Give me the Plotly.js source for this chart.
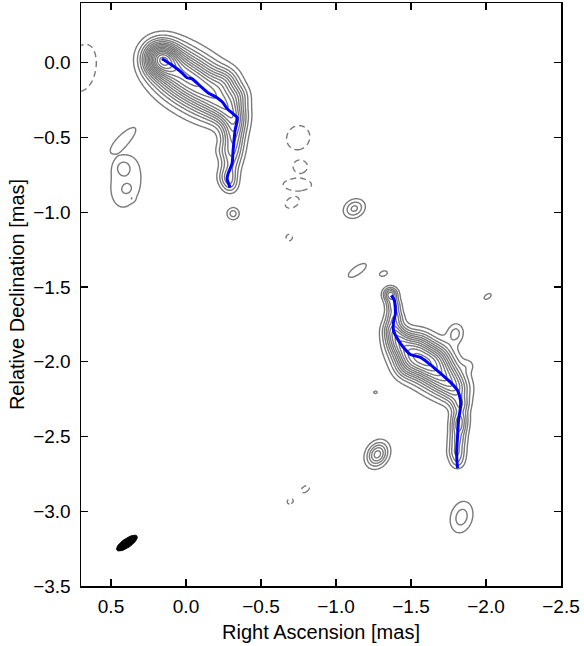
<!DOCTYPE html>
<html><head><meta charset="utf-8">
<script src="https://cdn.plot.ly/plotly-3.0.1.min.js"></script>
<style>html,body{margin:0;padding:0;background:#fff}</style>
</head><body><div id="chart" style="width:584px;height:646px"></div>
<script>
// ---- Positive emission components (RA mas, Dec mas, peak in units of lowest contour, sigma major/minor mas, major-axis angle deg) ----
const compX   = [0.174, 0.127, 0.080, 0.027, -0.033, -0.094, -0.147, -0.200, -0.247, -0.287, -0.327, -0.321, -0.314, -0.314, -0.307, -0.294, -0.281, -0.294, -0.267, -0.347, -0.240,
                 -1.363, -1.383, -1.389, -1.376, -1.403, -1.450, -1.516, -1.576, -1.630, -1.697, -1.764, -1.810, -1.830, -1.824, -1.817, -1.810, -1.804, -1.810, -1.463, -1.884, -1.697, -1.563,
                 0.414, 0.401, 0.421, 0.394, 0.361, -0.314, -1.122, -1.142, -1.316, -2.011, -1.797, -1.263, -1.276, -1.837];
const compY   = [0.033, -0.007, -0.047, -0.087, -0.120, -0.154, -0.200, -0.234, -0.281, -0.321, -0.361, -0.428, -0.494, -0.561, -0.628, -0.695, -0.768, -0.828, -0.120, -0.220, -0.588,
                 -1.550, -1.623, -1.697, -1.777, -1.844, -1.904, -1.957, -1.977, -2.024, -2.091, -2.144, -2.204, -2.291, -2.378, -2.445, -2.525, -2.605, -2.672, -2.044, -2.024, -1.957, -1.858,
                 -0.508, -0.802, -0.700, -0.845, -0.908, -1.009, -0.975, -1.389, -1.410, -1.563, -1.810, -2.204, -2.619, -3.039];
const compPeak= [9.5, 3.2, 3.2, 3.2, 3.2, 3.2, 3.2, 3.1, 2.9, 2.8, 2.8, 3.2, 3.2, 3.0, 2.7, 2.3, 3.8, 1.8, 2.5, 2.0, 1.0,
                 5.5, 3.8, 3.8, 3.8, 3.9, 4.2, 4.4, 4.4, 4.4, 4.4, 3.6, 3.0, 3.5, 4.0, 4.0, 3.5, 3.5, 2.0, 1.8, 1.0, 1.5, 1.2,
                 1.5, 1.6, 1.35, 0.9, 0.85, 2.5, 3.3, 1.5, 1.3, 1.3, 2.4, 1.2, 5.5, 2.5];
const compMaj = [0.075, 0.100, 0.108, 0.110, 0.110, 0.110, 0.108, 0.100, 0.080, 0.068, 0.058, 0.055, 0.052, 0.050, 0.048, 0.045, 0.044, 0.037, 0.060, 0.050, 0.040,
                 0.033, 0.033, 0.038, 0.045, 0.055, 0.070, 0.085, 0.090, 0.090, 0.085, 0.075, 0.060, 0.040, 0.040, 0.040, 0.040, 0.040, 0.035, 0.055, 0.030, 0.060, 0.050,
                 0.097, 0.170, 0.040, 0.032, 0.012, 0.030, 0.050, 0.078, 0.037, 0.037, 0.048, 0.020, 0.058, 0.079];
const compMin = [0.075, 0.100, 0.108, 0.110, 0.110, 0.110, 0.108, 0.100, 0.080, 0.068, 0.058, 0.055, 0.052, 0.050, 0.048, 0.045, 0.044, 0.037, 0.060, 0.050, 0.040,
                 0.033, 0.033, 0.038, 0.045, 0.055, 0.070, 0.085, 0.090, 0.090, 0.085, 0.075, 0.060, 0.040, 0.040, 0.040, 0.040, 0.040, 0.035, 0.055, 0.030, 0.060, 0.050,
                 0.030, 0.100, 0.040, 0.028, 0.012, 0.030, 0.040, 0.030, 0.023, 0.020, 0.038, 0.014, 0.045, 0.054];
const compAng = [0, 0, 0, 0, 0, 0, 0, 0, 0, 0, 0, 0, 0, 0, 0, 0, 0, 0, 0, 0, 0,
                 0, 0, 0, 0, 0, 0, 0, 0, 0, 0, 0, 0, 0, 0, 0, 0, 0, 0, 0, 0, 0, 0,
                 136, 100, 0, 150, 0, 0, 150, 145, 160, 145, 100, 170, 120, 105];

// ---- Negative emission components (dashed contours) ----
const negX    = [0.688, -0.748, -0.762, -0.742, -0.708, -0.688, -0.695, -0.795];
const negY    = [-0.033, -0.501, -0.695, -0.815, -0.935, -1.169, -2.933, -2.852];
const negPeak = [2.0, 2.0, 2.0, 2.0, 2.0, 2.0, 2.0, 2.0];
const negMaj  = [0.135, 0.070, 0.040, 0.080, 0.042, 0.018, 0.018, 0.026];
const negMin  = [0.074, 0.064, 0.034, 0.034, 0.028, 0.018, 0.014, 0.016];
const negAng  = [100, 120, 0, 0, 150, 0, 150, 145];

// ---- Ridge lines (blue) ----
const ridge1X = [0.160, 0.107, 0.060, 0.027, -0.007, -0.040, -0.094, -0.147, -0.207, -0.247, -0.274, -0.314, -0.341, -0.327, -0.314, -0.307, -0.281, -0.274, -0.294];
const ridge1Y = [0.027, -0.007, -0.040, -0.067, -0.100, -0.107, -0.154, -0.200, -0.234, -0.267, -0.307, -0.341, -0.367, -0.454, -0.588, -0.675, -0.741, -0.775, -0.835];
const ridge2X = [-1.369, -1.389, -1.396, -1.383, -1.383, -1.416, -1.450, -1.496, -1.563, -1.610, -1.650, -1.697, -1.764, -1.810, -1.830, -1.830, -1.817, -1.810, -1.804, -1.810];
const ridge2Y = [-1.556, -1.590, -1.677, -1.737, -1.790, -1.857, -1.904, -1.951, -1.971, -2.004, -2.037, -2.077, -2.138, -2.191, -2.258, -2.305, -2.391, -2.505, -2.612, -2.712];

// ---- Restoring beam ----
const beamX = 0.394, beamY = -3.213, beamMaj = 0.082, beamMin = 0.030, beamAng = 145;

// ---- Axes ----
const xRange = [0.7, -2.5];
const yRange = [-3.5, 0.4];
const xTickVals = [0.5, 0.0, -0.5, -1.0, -1.5, -2.0, -2.5];
const yTickVals = [0.0, -0.5, -1.0, -1.5, -2.0, -2.5, -3.0, -3.5];

// ---- Build intensity grids from the components ----
const step = 0.007;
const xs = [], ys = [];
for (let x = -2.5; x <= 0.7 + 1e-9; x += step) xs.push(+x.toFixed(4));
for (let y = -3.5; y <= 0.4 + 1e-9; y += step) ys.push(+y.toFixed(4));

function field(cx, cy, pk, smaj, smin, ang) {
  const z = ys.map(() => new Float64Array(xs.length));
  for (let k = 0; k < cx.length; k++) {
    const t = ang[k] * Math.PI / 180, c = Math.cos(t), s = Math.sin(t);
    const R = 5 * Math.max(smaj[k], smin[k]);
    for (let j = 0; j < ys.length; j++) {
      const dy = ys[j] - cy[k];
      if (Math.abs(dy) > R) continue;
      const row = z[j];
      for (let i = 0; i < xs.length; i++) {
        const dx = xs[i] - cx[k];
        if (Math.abs(dx) > R) continue;
        const u = (dx * c + dy * s) / smaj[k];
        const v = (-dx * s + dy * c) / smin[k];
        row[i] += pk[k] * Math.exp(-0.5 * (u * u + v * v));
      }
    }
  }
  return z.map(r => Array.from(r));
}
const zPos = field(compX, compY, compPeak, compMaj, compMin, compAng);
const zNeg = field(negX, negY, negPeak, negMaj, negMin, negAng);

// beam outline
const bx = [], by = [];
{
  const t = beamAng * Math.PI / 180;
  for (let a = 0; a <= 360; a += 6) {
    const p = a * Math.PI / 180;
    const u = beamMaj * Math.cos(p), v = beamMin * Math.sin(p);
    bx.push(beamX + u * Math.cos(t) - v * Math.sin(t));
    by.push(beamY + u * Math.sin(t) + v * Math.cos(t));
  }
}

const traces = [
  {type: 'contour', x: xs, y: ys, z: zPos, showscale: false, hoverinfo: 'skip',
   contours: {start: 1, end: 16, size: 1, coloring: 'none'},
   line: {color: '#7a7a7a', width: 1.4, smoothing: 1}},
  {type: 'contour', x: xs, y: ys, z: zNeg, showscale: false, hoverinfo: 'skip',
   contours: {start: 1, end: 1.5, size: 1, coloring: 'none'},
   line: {color: '#7a7a7a', width: 1.4, smoothing: 1, dash: '6px,4px'}},
  {type: 'scatter', mode: 'lines', x: ridge1X, y: ridge1Y, line: {color: '#0000ff', width: 3, shape: 'spline', smoothing: 0.6}, hoverinfo: 'skip'},
  {type: 'scatter', mode: 'lines', x: ridge2X, y: ridge2Y, line: {color: '#0000ff', width: 3, shape: 'spline', smoothing: 0.6}, hoverinfo: 'skip'},
  {type: 'scatter', mode: 'lines', x: bx, y: by, fill: 'toself', fillcolor: '#000000', line: {color: '#000000', width: 1}, hoverinfo: 'skip'}
];

const axisCommon = {
  showline: true, linecolor: '#000', linewidth: 1.5, mirror: 'ticks',
  ticks: 'inside', ticklen: 7, tickwidth: 1.3, tickcolor: '#000',
  showgrid: false, zeroline: false, tickformat: '.1f',
  tickfont: {family: 'Liberation Sans, Arial, sans-serif', size: 19, color: '#000'}
};

const layout = {
  width: 584, height: 646, showlegend: false,
  paper_bgcolor: '#fff', plot_bgcolor: '#fff',
  margin: {l: 81, r: 23, t: 3, b: 60},
  font: {family: 'Liberation Sans, Arial, sans-serif', size: 19, color: '#000'},
  xaxis: Object.assign({}, axisCommon, {range: xRange, tickvals: xTickVals, ticklabelstandoff: 3,
    title: {text: 'Right Ascension [mas]', font: {size: 20}, standoff: 8}}),
  yaxis: Object.assign({}, axisCommon, {range: yRange, tickvals: yTickVals, ticklabelstandoff: 5,
    title: {text: 'Relative Declination [mas]', font: {size: 20}, standoff: 3}})
};

Plotly.newPlot('chart', traces, layout, {displayModeBar: false, staticPlot: true});
</script>
</body></html>
